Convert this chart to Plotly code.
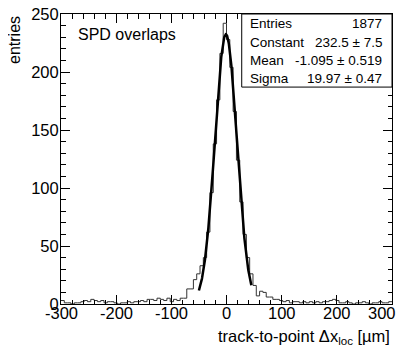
"""SPD overlaps residual histogram with Gaussian fit (ROOT-style look)."""

import numpy as np
import plotly.graph_objects as go

# histogram binning: 100 bins of 6 um between -300 and 300
BIN_LOW = -300.0
BIN_WIDTH = 6.0
counts = [
    3, 1, 1, 0, 1, 1, 2, 3, 2, 4,
    3, 2, 3, 1, 2, 2, 1, 0, 1, 1,
    2, 1, 2, 2, 3, 2, 4, 4, 3, 5,
    4, 3, 5, 2, 4, 3, 5, 5, 13, 13,
    21, 26, 33, 40, 62, 96, 138, 176, 216, 242,
    228, 204, 166, 124, 88, 60, 40, 26, 16, 7,
    11, 10, 6, 6, 4, 4, 3, 2, 3, 1,
    2, 2, 1, 2, 1, 2, 1, 2, 1, 2,
    2, 3, 4, 3, 1, 1, 2, 1, 0, 1,
    1, 2, 1, 0, 1, 1, 2, 1, 1, 2,
]

# gaussian fit result and fit range
FIT_CONSTANT = 232.5
FIT_MEAN = -1.095
FIT_SIGMA = 19.97
FIT_RANGE = (-50.0, 45.0)

stats_labels = ["Entries", "Constant", "Mean", "Sigma"]
stats_values = ["1877", "232.5 ± 7.5", "-1.095 ± 0.519", "19.97 ± 0.47"]

X_RANGE = (-300, 300)
x_ticks = [-300, -200, -100, 0, 100, 200, 300]
x_ticktext = ["-300", "-200", "-100", "0", "100", "200", "300"]
y_ticks = [0, 50, 100, 150, 200, 250]

FONT = "Liberation Sans, Arial, Helvetica, sans-serif"

edges = BIN_LOW + BIN_WIDTH * np.arange(len(counts) + 1)
step_y = list(counts) + [counts[-1]]

fit_x = np.linspace(FIT_RANGE[0], FIT_RANGE[1], 300)
fit_y = FIT_CONSTANT * np.exp(-0.5 * ((fit_x - FIT_MEAN) / FIT_SIGMA) ** 2)

fig = go.Figure()
fig.add_trace(
    go.Scatter(
        x=edges,
        y=step_y,
        mode="lines",
        line=dict(shape="hv", color="#333333", width=1),
        hoverinfo="skip",
    )
)
fig.add_trace(
    go.Scatter(
        x=fit_x,
        y=fit_y,
        mode="lines",
        line=dict(color="black", width=2.5),
        hoverinfo="skip",
    )
)

axis_common = dict(
    showgrid=False,
    zeroline=False,
    showline=True,
    linecolor="black",
    linewidth=1,
    mirror="ticks",
    ticks="inside",
    tickcolor="black",
    tickwidth=1,
    ticklen=9,
    automargin=False,
    ticklabeloverflow="allow",
    tickfont=dict(family=FONT, size=16.5, color="black"),
)

# x tick labels are placed as annotations (closer to the axis, ROOT-like)
fig.update_xaxes(
    range=list(X_RANGE),
    tickvals=x_ticks,
    showticklabels=False,
    minor=dict(ticks="inside", dtick=20, ticklen=4.5, tickcolor="black", showgrid=False),
    **axis_common,
)
fig.update_yaxes(
    range=[0, 250],
    tickvals=y_ticks,
    ticklabelstandoff=-2,
    minor=dict(ticks="inside", dtick=10, ticklen=4.5, tickcolor="black", showgrid=False),
    **axis_common,
)

span = X_RANGE[1] - X_RANGE[0]
for i, (xv, txt) in enumerate(zip(x_ticks, x_ticktext)):
    last = i == len(x_ticks) - 1
    fig.add_annotation(
        x=(xv - X_RANGE[0]) / span, y=-0.031, xref="paper", yref="paper",
        text=txt, showarrow=False,
        xanchor="right" if last else "center", xshift=6 if last else 0,
        yanchor="middle",
        font=dict(family=FONT, size=16.5, color="black"),
    )

# stats box in the top right corner
fig.add_shape(
    type="rect",
    xref="paper",
    yref="paper",
    x0=0.546,
    x1=1.0,
    y0=0.748,
    y1=1.0,
    line=dict(color="black", width=1),
    fillcolor="white",
    layer="above",
)
row_y = [0.966, 0.903, 0.838, 0.779]
for label, value, yy in zip(stats_labels, stats_values, row_y):
    fig.add_annotation(
        x=0.564, y=yy, xref="paper", yref="paper", text=label, showarrow=False,
        xanchor="left", yanchor="middle", font=dict(family=FONT, size=13.5, color="black"),
    )
    fig.add_annotation(
        x=0.977, y=yy, xref="paper", yref="paper", text=value, showarrow=False,
        xanchor="right", yanchor="middle", font=dict(family=FONT, size=13.5, color="black"),
    )

fig.add_annotation(
    x=0.045, y=0.931, xref="paper", yref="paper", text="SPD overlaps", showarrow=False,
    xanchor="left", yanchor="middle", font=dict(family=FONT, size=16, color="black"),
)
fig.add_annotation(
    x=1.0, y=-0.114, xref="paper", yref="paper",
    text="track-to-point Δx<sub>loc</sub> [µm]", showarrow=False,
    xanchor="right", yanchor="middle", font=dict(family=FONT, size=16.5, color="black"),
)
fig.add_annotation(
    x=-0.142, y=1.0, xref="paper", yref="paper", text="entries", showarrow=False,
    textangle=-90, xanchor="center", yanchor="top",
    font=dict(family=FONT, size=16, color="black"),
)

# the page body has an 8 px margin on every side: keep the figure inside
# the window (no overflow) and shift the plot area by those 8 px
fig.update_layout(
    width=391,
    height=339,
    margin=dict(l=53, r=6.5, t=6, b=43),
    paper_bgcolor="white",
    plot_bgcolor="white",
    showlegend=False,
)

fig.write_html("out.html")
